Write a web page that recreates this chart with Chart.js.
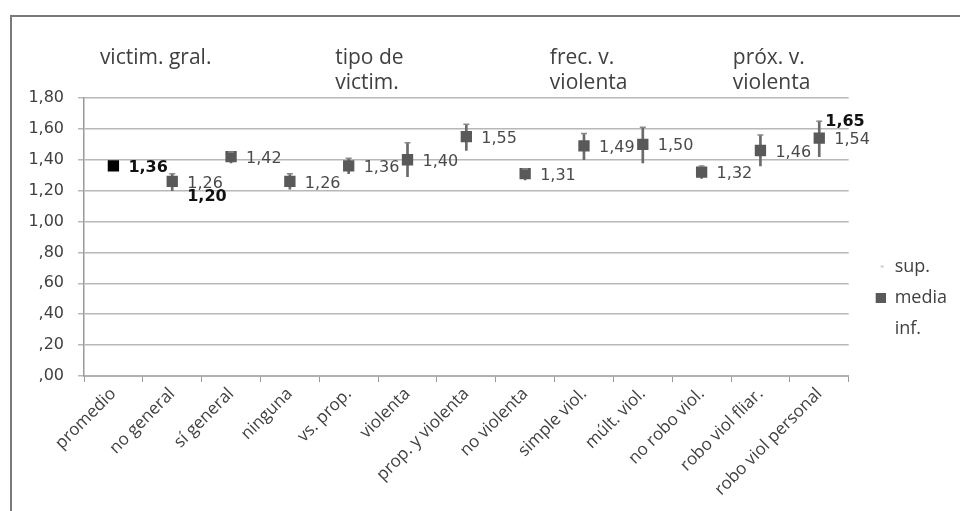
<!DOCTYPE html>
<html lang="es">
<head>
  <meta charset="UTF-8">
  <title>Victimización</title>
  <script src="https://cdn.jsdelivr.net/npm/chart.js"></script>
  <style>
    html, body {
      margin: 0;
      padding: 0;
      background: #fff;
    }
    .chart-container {
      position: relative;
      width: 960px;
      height: 511px;
    }
  </style>
</head>
<body>
  <div class="chart-container">
    <canvas id="myChart"></canvas>
  </div>

  <script>
    const categories = ['promedio', 'no general', 'sí general', 'ninguna', 'vs. prop.', 'violenta', 'prop. y violenta',
      'no violenta', 'simple viol.', 'múlt. viol.', 'no robo viol.', 'robo viol fliar.', 'robo viol personal'];
    const media = [1.36, 1.26, 1.42, 1.26, 1.36, 1.40, 1.55, 1.31, 1.49, 1.50, 1.32, 1.46, 1.54];
    const sup = [null, 1.31, 1.45, 1.31, 1.41, 1.51, 1.63, 1.34, 1.57, 1.61, 1.36, 1.56, 1.65];
    const inf = [null, 1.20, 1.38, 1.21, 1.31, 1.29, 1.46, 1.27, 1.40, 1.38, 1.28, 1.36, 1.42];
    const yTicks = [0, 0.2, 0.4, 0.6, 0.8, 1.0, 1.2, 1.4, 1.6, 1.8];
    const groupLabels = [['victim. gral.'], ['tipo de', 'victim.'], ['frec. v.', 'violenta'], ['próx. v.', 'violenta']];
    const groupStart = [-0.23, 3.77, 7.42, 10.53];
    // [serie, índice] de las etiquetas en negrita
    const boldLabels = [['media', 0], ['inf', 1], ['sup', 12]];

    const fmt = v => {
      let s = v.toFixed(2).replace('.', ',');
      if (s.startsWith('0,')) s = s.slice(1);
      return s;
    };

    const highLow = categories.map((c, i) => sup[i] == null ? null : [inf[i], sup[i]]);

    // iconos de la leyenda: lienzo de 24px con la marca a la derecha
    function icon(x, w, h, color) {
      const c = document.createElement('canvas');
      c.width = 24;
      c.height = 10;
      const g = c.getContext('2d');
      g.fillStyle = color;
      g.fillRect(x, (10 - h) / 2, w, h);
      return c;
    }
    const legendIcons = [icon(19, 3, 1, '#9a9a9a'), icon(14, 10, 10, '#595959'), icon(0, 0, 0, 'rgba(0,0,0,0)')];

    const framePlugin = {
      id: 'frame',
      beforeDraw(chart) {
        const ctx = chart.ctx;
        ctx.save();
        ctx.strokeStyle = '#7a7a7a';
        ctx.lineWidth = 2;
        ctx.beginPath();
        ctx.moveTo(11, 520);
        ctx.lineTo(11, 16);
        ctx.lineTo(970, 16);
        ctx.stroke();
        ctx.restore();
      }
    };

    const labelPlugin = {
      id: 'labels',
      afterDatasetsDraw(chart) {
        const ctx = chart.ctx;
        const xs = chart.scales.x;
        const top = chart.chartArea.top;
        ctx.save();

        // titulos de grupo
        ctx.font = '21px "Open Sans"';
        ctx.fillStyle = '#404040';
        ctx.textAlign = 'left';
        ctx.textBaseline = 'middle';
        const step = xs.getPixelForValue(1) - xs.getPixelForValue(0);
        groupLabels.forEach((lines, g) => {
          const x = xs.getPixelForValue(0) + groupStart[g] * step;
          lines.forEach((t, k) => ctx.fillText(t, x, top - 40 + k * 25));
        });

        // etiquetas de la media
        const mMeta = chart.getDatasetMeta(1);
        ctx.font = '16px "DejaVu Sans"';
        ctx.fillStyle = '#4a4a4a';
        mMeta.data.forEach((pt, i) => {
          if (i === 0) return;
          ctx.fillText(fmt(media[i]), pt.x + 15, pt.y + 2);
        });

        // etiquetas en negrita
        ctx.font = 'bold 16px "DejaVu Sans"';
        ctx.fillStyle = '#111';
        boldLabels.forEach(([serie, i]) => {
          if (serie === 'media') {
            const pt = mMeta.data[i];
            ctx.fillText(fmt(media[i]), pt.x + 15, pt.y + 2);
          } else if (serie === 'inf') {
            const pt = chart.getDatasetMeta(2).data[i];
            ctx.fillText(fmt(inf[i]), pt.x + 15, pt.y + 6);
          } else {
            const pt = chart.getDatasetMeta(0).data[i];
            ctx.fillText(fmt(sup[i]), pt.x + 6, pt.y + 1);
          }
        });
        ctx.restore();
      }
    };

    const ctx = document.getElementById('myChart').getContext('2d');
    const myChart = new Chart(ctx, {
      type: 'line',
      data: {
        labels: categories,
        datasets: [{
          label: 'sup.',
          data: sup,
          showLine: false,
          pointStyle: 'line',
          pointRadius: 3,
          borderColor: '#8a8a8a',
          backgroundColor: '#8a8a8a',
          borderWidth: 1.5
        }, {
          label: 'media',
          data: media,
          showLine: false,
          pointStyle: 'rect',
          pointRadius: 8,
          pointBorderWidth: 0,
          pointBackgroundColor: media.map((v, i) => i === 0 ? '#000' : '#595959'),
          backgroundColor: '#595959',
          borderColor: '#595959'
        }, {
          label: 'inf.',
          data: inf,
          showLine: false,
          pointRadius: 0,
          borderColor: 'rgba(0,0,0,0)',
          backgroundColor: 'rgba(0,0,0,0)'
        }, {
          type: 'bar',
          label: 'hilo',
          data: highLow,
          backgroundColor: '#6a6a6a',
          barThickness: 2,
          order: 10
        }]
      },
      options: {
        responsive: true,
        maintainAspectRatio: false,
        animation: false,
        layout: {
          padding: { top: 98, right: 3, bottom: 14, left: 0 }
        },
        plugins: {
          tooltip: { enabled: false },
          legend: {
            position: 'right',
            labels: {
              usePointStyle: true,
              pointStyleWidth: 24,
              padding: 13,
              color: '#404040',
              font: { family: 'Open Sans', size: 18 },
              filter: item => item.text !== 'hilo',
              generateLabels(chart) {
                const items = Chart.defaults.plugins.legend.labels.generateLabels(chart);
                items.forEach((it, k) => {
                  if (legendIcons[k]) it.pointStyle = legendIcons[k];
                });
                return items;
              }
            }
          }
        },
        scales: {
          x: {
            offset: true,
            afterFit(scale) { scale.height = 121; },
            grid: {
              offset: true,
              drawOnChartArea: false,
              drawTicks: true,
              tickLength: 6,
              color: '#9a9a9a'
            },
            border: { color: '#b0b0b0', width: 2 },
            ticks: {
              autoSkip: false,
              maxRotation: 45,
              minRotation: 45,
              padding: 2,
              color: '#404040',
              font: { family: 'Open Sans', size: 17 }
            }
          },
          y: {
            min: 0,
            max: 1.8,
            afterFit(scale) { scale.width = 84; },
            afterBuildTicks(scale) { scale.ticks = yTicks.map(v => ({ value: v })); },
            grid: {
              color: '#b8b8b8',
              lineWidth: 1.5,
              tickLength: 6
            },
            border: { color: '#9a9a9a', width: 1.5 },
            ticks: {
              padding: 14,
              color: '#404040',
              font: { family: 'DejaVu Sans', size: 16 },
              callback: v => fmt(v)
            }
          }
        }
      },
      plugins: [framePlugin, labelPlugin]
    });
  </script>
</body>
</html>
